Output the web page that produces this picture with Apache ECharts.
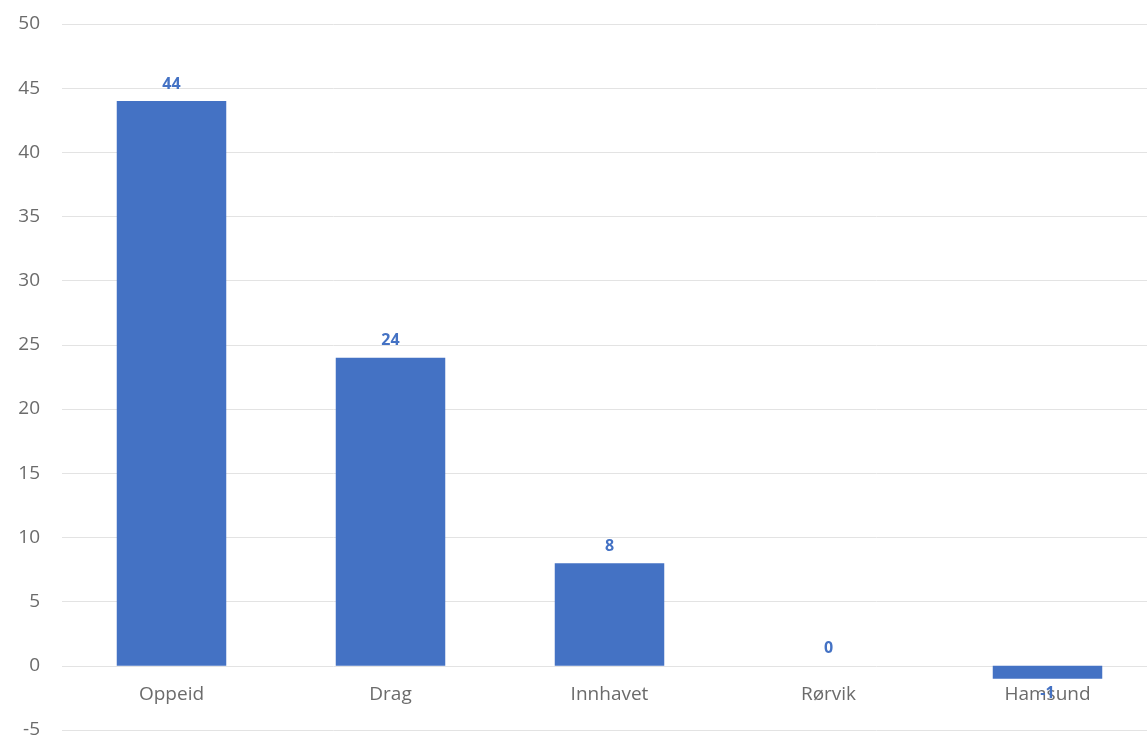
<!DOCTYPE html>
<html>
<head>
<meta charset="utf-8">
<script src="https://cdn.jsdelivr.net/npm/echarts@6/dist/echarts.min.js"></script>
<style>
html,body{margin:0;padding:0;background:#fff;}
#c{width:1147px;height:738px;}
</style>
</head>
<body>
<div id="c"></div>
<script>
const categories = ["Oppeid", "Drag", "Innhavet", "Rørvik", "Hamsund"];
const values = [44, 24, 8, 0, -1];
const yMin = -5, yMax = 50, yInterval = 5;

const chart = echarts.init(document.getElementById('c'));
const seriesData = values.map(v => v < 0
  ? { value: v, label: { position: 'bottom', distance: 7 } }
  : { value: v });

const font = 'Open Sans, DejaVu Sans, sans-serif';
chart.setOption({
  animation: false,
  grid: { left: 62, right: -10, top: 24, bottom: 8, containLabel: false, outerBoundsMode: 'none' },
  xAxis: {
    type: 'category',
    data: categories,
    axisLine: { onZero: false, show: false },
    axisTick: { show: false },
    axisLabel: { color: '#6b6b6b', fontSize: 19, margin: -45, fontFamily: font }
  },
  yAxis: {
    type: 'value',
    min: yMin, max: yMax, interval: yInterval,
    axisLine: { show: false },
    axisTick: { show: false },
    splitLine: { lineStyle: { color: '#e3e3e3', width: 1 } },
    axisLabel: { color: '#6b6b6b', fontSize: 19, margin: 22, fontFamily: font }
  },
  series: [{
    type: 'bar',
    data: seriesData,
    barWidth: '50%',
    itemStyle: { color: '#4472C4' },
    label: {
      show: true,
      position: 'top',
      distance: 9,
      color: '#4472C4',
      fontWeight: 'bold',
      fontSize: 16,
      fontFamily: font
    }
  }]
});
</script>
</body>
</html>
